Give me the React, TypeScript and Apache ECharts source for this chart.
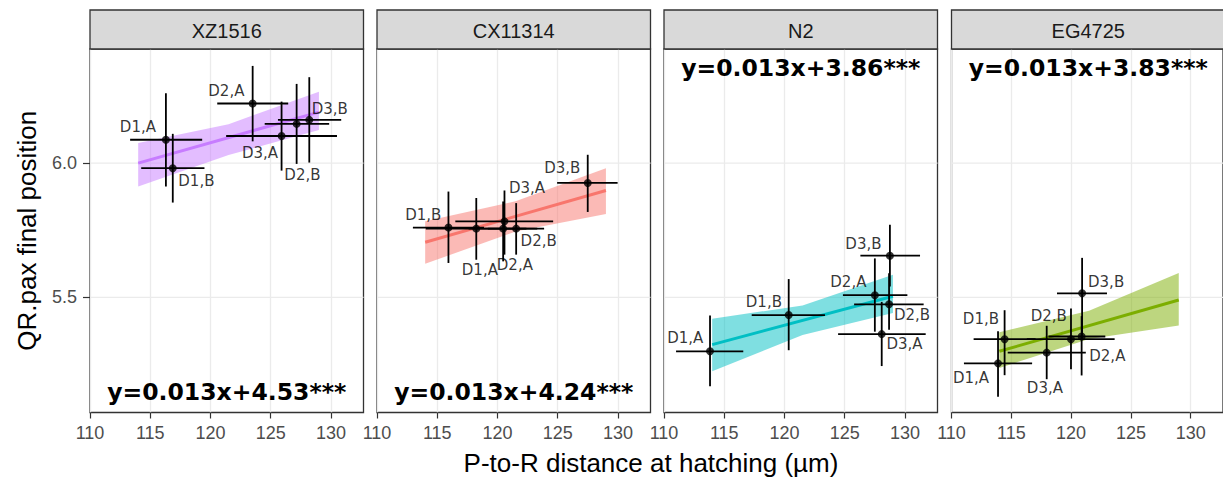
import React, { useEffect, useRef } from "react";
import * as echarts from "echarts";

// ---------- data ----------
const panelNames = ["XZ1516", "CX11314", "N2", "EG4725"];
const panelColors = ["#C77CFF", "#F8766D", "#00BFC4", "#7CAE00"];
const equations = ["y=0.013x+4.53***", "y=0.013x+4.24***", "y=0.013x+3.86***", "y=0.013x+3.83***"];
const equationAtTop = [false, false, true, true];

const xTicks = [110, 115, 120, 125, 130];
const yTicks = [5.5, 6.0];

// per panel point labels & values
const pointNames = [
  ["D1,A", "D1,B", "D2,A", "D3,A", "D2,B", "D3,B"],
  ["D1,B", "D1,A", "D3,A", "D2,A", "D2,B", "D3,B"],
  ["D1,A", "D1,B", "D2,A", "D3,B", "D2,B", "D3,A"],
  ["D1,A", "D1,B", "D2,B", "D3,A", "D2,A", "D3,B"],
];
const xMean = [
  [116.3, 116.87, 123.5, 125.9, 127.15, 128.2],
  [115.93, 118.24, 120.58, 120.47, 121.55, 127.49],
  [113.82, 120.35, 127.5, 128.75, 128.68, 128.07],
  [113.89, 114.44, 119.99, 117.96, 120.88, 120.92],
];
const yMean = [
  [6.087, 5.981, 6.222, 6.101, 6.146, 6.161],
  [5.76, 5.756, 5.783, 5.756, 5.756, 5.926],
  [5.299, 5.434, 5.508, 5.655, 5.474, 5.363],
  [5.254, 5.344, 5.344, 5.294, 5.354, 5.515],
];
const xLow = [
  [113.33, 114.25, 120.56, 121.3, 124.5, 125.6],
  [112.98, 114.05, 116.5, 117.6, 119.2, 124.95],
  [111.0, 117.28, 124.85, 126.3, 125.78, 124.45],
  [111.04, 111.85, 116.3, 114.7, 118.1, 118.82],
];
const xHigh = [
  [119.31, 119.5, 126.45, 130.5, 129.85, 130.85],
  [118.88, 122.4, 124.62, 123.3, 123.87, 129.97],
  [116.58, 123.36, 130.2, 131.25, 131.55, 131.72],
  [116.74, 117.03, 123.64, 121.23, 122.86, 123.0],
];
const yLow = [
  [5.913, 5.853, 6.081, 5.972, 5.997, 6.002],
  [5.628, 5.64, 5.659, 5.634, 5.659, 5.818],
  [5.169, 5.303, 5.372, 5.54, 5.379, 5.244],
  [5.13, 5.21, 5.232, 5.195, 5.209, 5.347],
];
const yHigh = [
  [6.26, 6.109, 6.362, 6.229, 6.295, 6.32],
  [5.894, 5.87, 5.898, 5.857, 5.851, 6.031],
  [5.432, 5.568, 5.645, 5.77, 5.59, 5.483],
  [5.374, 5.452, 5.458, 5.394, 5.43, 5.647],
];

// fitted line & confidence band
const fitX = [114, 129];
const fitY = [
  [6.0, 6.19],
  [5.705, 5.898],
  [5.324, 5.504],
  [5.299, 5.49],
];
const bandX = [114, 121.5, 129];
const bandLow = [
  [5.913, 6.03, 6.123],
  [5.625, 5.745, 5.81],
  [5.225, 5.36, 5.442],
  [5.237, 5.345, 5.395],
];
const bandHigh = [
  [6.075, 6.145, 6.266],
  [5.783, 5.858, 5.981],
  [5.42, 5.47, 5.584],
  [5.37, 5.45, 5.591],
];

// label nudges (pixels) – layout only
const labelNudge = [
  [[-28, -12.5], [23.6, 12.7], [-26.3, -12.7], [-21.6, 17], [5.8, 51], [20.5, -10.5]],
  [[-25.2, -12.7], [3.6, 41], [22.5, -33.4], [11.7, 36], [22.5, 12.5], [-25.5, -14.5]],
  [[-24.7, -13], [-24.8, -13.3], [-26.5, -12.7], [-26.5, -12.2], [23, 10.5], [22.8, 10]],
  [[-27, 14.4], [-23.7, -20.3], [-22.2, -23], [-1.8, 35.3], [25.7, 19.5], [24, -11]],
];

// ---------- layout ----------
const W = 1223;
const H = 477;
const panelLeft = [90, 377, 664, 951.5];
const panelWidth = 273.5;
const panelTop = 49;
const panelHeight = 363.5;
const stripTop = 10;
const xMin = 110;
const xMax = 132.7;
const yMin = 5.071;
const yMax = 6.425;

const SANS = "'Liberation Sans', Arial, Helvetica, sans-serif";
const DEJAVU = "'DejaVu Sans', Verdana, sans-serif";

function hexToRgba(hex: string, a: number) {
  const n = parseInt(hex.slice(1), 16);
  return `rgba(${(n >> 16) & 255},${(n >> 8) & 255},${n & 255},${a})`;
}

export default function App() {
  const ref = useRef<HTMLDivElement>(null);

  useEffect(() => {
    if (!ref.current) return;
    const chart = echarts.init(ref.current, undefined, { renderer: "svg" });

    const grids: any[] = [];
    const xAxes: any[] = [];
    const yAxes: any[] = [];
    const series: any[] = [];
    const graphics: any[] = [];

    panelNames.forEach((name, p) => {
      grids.push({
        left: panelLeft[p],
        top: panelTop,
        width: panelWidth,
        height: panelHeight,
        show: true,
        backgroundColor: "transparent",
        borderColor: "#333333",
        borderWidth: 1.3,
        containLabel: false,
      });
      xAxes.push({
        type: "value",
        gridIndex: p,
        min: xMin,
        max: xMax,
        interval: 5,
        axisLine: { show: false },
        axisTick: {
          show: true,
          length: 6,
          customValues: xTicks,
          lineStyle: { color: "#333333", width: 1.2 },
        },
        axisLabel: {
          show: true,
          customValues: xTicks,
          margin: 11,
          color: "#4D4D4D",
          fontSize: 18,
          fontFamily: SANS,
        },
        splitLine: { show: true, lineStyle: { color: "#EBEBEB", width: 1.3 } },
      });
      yAxes.push({
        type: "value",
        gridIndex: p,
        min: yMin,
        max: yMax,
        axisLine: { show: false },
        axisTick: {
          show: p === 0,
          length: 7,
          customValues: yTicks,
          lineStyle: { color: "#333333", width: 1.2 },
        },
        axisLabel: {
          show: p === 0,
          customValues: yTicks,
          margin: 13,
          color: "#4D4D4D",
          fontSize: 18,
          fontFamily: SANS,
          formatter: (v: number) => v.toFixed(1),
        },
        splitLine: { show: false },
      });

      // horizontal grid lines
      series.push({
        type: "custom",
        xAxisIndex: p,
        yAxisIndex: p,
        z: 1,
        silent: true,
        data: yTicks.map((v) => [xMin, v]),
        renderItem: (params: any, api: any) => {
          const cs = params.coordSys;
          const pt = api.coord([api.value(0), api.value(1)]);
          return {
            type: "line",
            shape: { x1: cs.x, y1: pt[1], x2: cs.x + cs.width, y2: pt[1] },
            style: { stroke: "#EBEBEB", lineWidth: 1.3 },
          };
        },
      });

      // confidence band
      series.push({
        type: "custom",
        xAxisIndex: p,
        yAxisIndex: p,
        z: 2,
        silent: true,
        data: [[bandX[0], bandLow[p][0]]],
        renderItem: (_params: any, api: any) => {
          const upper = bandX.map((x, i) => api.coord([x, bandHigh[p][i]]));
          const lower = bandX.map((x, i) => api.coord([x, bandLow[p][i]])).reverse();
          return {
            type: "polygon",
            shape: { points: upper.concat(lower) },
            style: { fill: hexToRgba(panelColors[p], 0.5), stroke: "none" },
          };
        },
      });

      // fitted line
      series.push({
        type: "line",
        xAxisIndex: p,
        yAxisIndex: p,
        z: 3,
        silent: true,
        symbol: "none",
        data: fitX.map((x, i) => [x, fitY[p][i]]),
        lineStyle: { color: panelColors[p], width: 3 },
      });

      // error bars
      series.push({
        type: "custom",
        xAxisIndex: p,
        yAxisIndex: p,
        z: 4,
        silent: true,
        data: xMean[p].map((x, i) => [x, yMean[p][i], xLow[p][i], xHigh[p][i], yLow[p][i], yHigh[p][i]]),
        encode: { x: 0, y: 1 },
        renderItem: (_params: any, api: any) => {
          const a = api.coord([api.value(2), api.value(1)]);
          const b = api.coord([api.value(3), api.value(1)]);
          const c = api.coord([api.value(0), api.value(4)]);
          const d = api.coord([api.value(0), api.value(5)]);
          return {
            type: "group",
            children: [
              { type: "line", shape: { x1: a[0], y1: a[1], x2: b[0], y2: b[1] }, style: { stroke: "#000", lineWidth: 1.8 } },
              { type: "line", shape: { x1: c[0], y1: c[1], x2: d[0], y2: d[1] }, style: { stroke: "#000", lineWidth: 1.8 } },
            ],
          };
        },
      });

      // points with labels
      series.push({
        type: "scatter",
        xAxisIndex: p,
        yAxisIndex: p,
        z: 5,
        silent: true,
        symbol: "circle",
        symbolSize: 8,
        itemStyle: { color: "#000" },
        data: xMean[p].map((x, i) => ({
          name: pointNames[p][i],
          value: [x, yMean[p][i]],
          label: {
            show: true,
            position: "inside",
            offset: labelNudge[p][i],
            formatter: "{b}",
            color: "#000",
            fontSize: 15,
            fontFamily: DEJAVU,
            textBorderWidth: 0,
          },
        })),
      });

      // strip
      const cx = panelLeft[p] + panelWidth / 2;
      graphics.push({
        type: "rect",
        shape: { x: panelLeft[p], y: stripTop, width: panelWidth, height: panelTop - stripTop },
        style: { fill: "#D9D9D9", stroke: "#333333", lineWidth: 1.3 },
        z: 10,
      });
      graphics.push({
        type: "text",
        x: cx,
        y: (stripTop + panelTop) / 2 + 1,
        style: {
          text: name,
          fill: "#1A1A1A",
          font: `20px ${SANS}`,
          textAlign: "center",
          textVerticalAlign: "middle",
        },
        z: 11,
      });
      // equation
      graphics.push({
        type: "text",
        x: cx,
        y: equationAtTop[p] ? 68 : 392,
        style: {
          text: equations[p],
          fill: "#000",
          font: `bold 23.5px ${DEJAVU}`,
          textAlign: "center",
          textVerticalAlign: "middle",
        },
        z: 11,
      });
    });

    // axis titles
    graphics.push({
      type: "text",
      x: 651,
      y: 463,
      style: {
        text: "P-to-R distance at hatching (µm)",
        fill: "#000",
        font: `26px ${SANS}`,
        textAlign: "center",
        textVerticalAlign: "middle",
      },
    });
    graphics.push({
      type: "text",
      x: 27,
      y: panelTop + panelHeight / 2,
      rotation: Math.PI / 2,
      style: {
        text: "QR.pax final position",
        fill: "#000",
        font: `26px ${SANS}`,
        textAlign: "center",
        textVerticalAlign: "middle",
      },
    });

    chart.setOption({
      animation: false,
      backgroundColor: "#FFFFFF",
      grid: grids,
      xAxis: xAxes,
      yAxis: yAxes,
      series,
      graphic: graphics,
    });

    return () => chart.dispose();
  }, []);

  return (
    <div
      ref={ref}
      style={{ position: "fixed", left: 0, top: 0, width: W, height: H }}
    />
  );
}
